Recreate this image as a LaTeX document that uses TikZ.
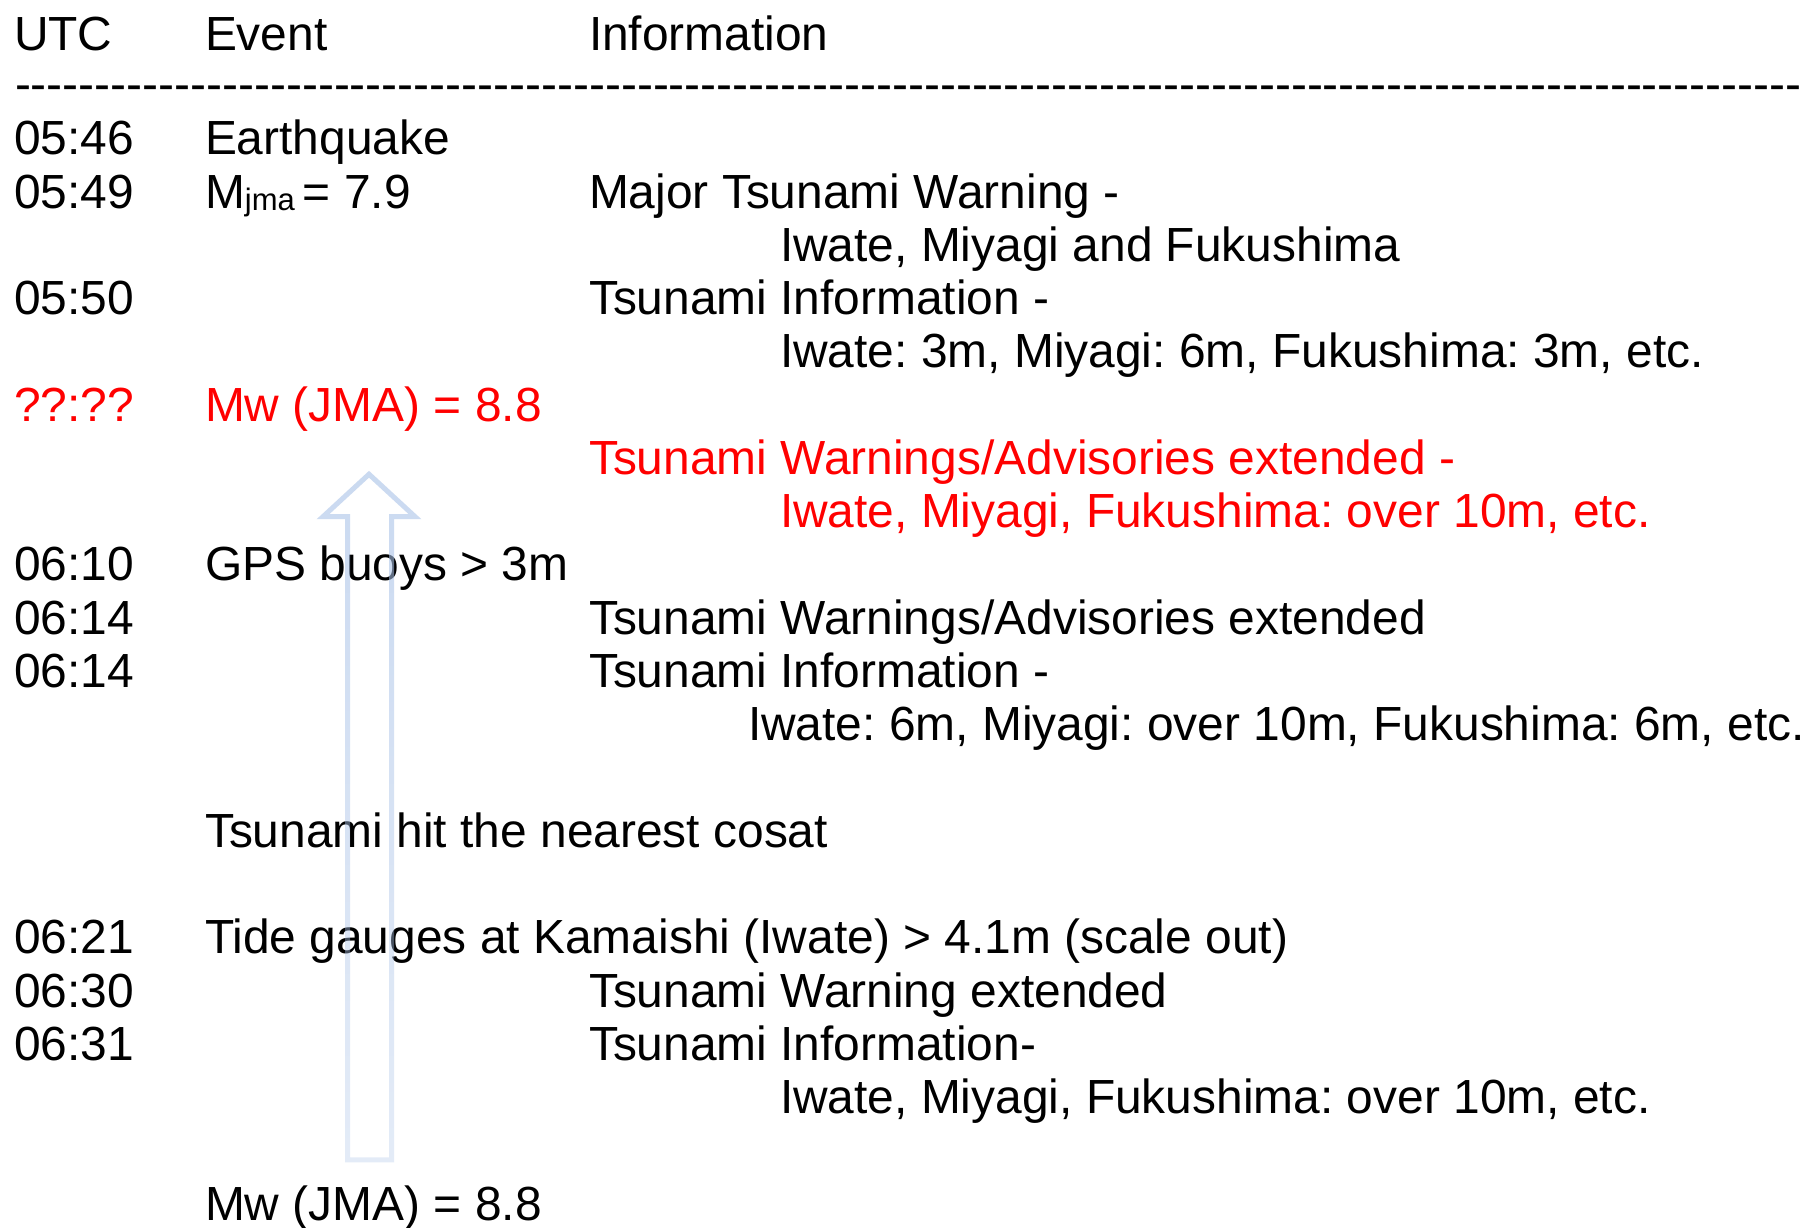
\documentclass[tikz,border=0pt]{standalone}
\usepackage{fontspec}
\setmainfont{Liberation Sans}[Ligatures=TeXOff]
\usetikzlibrary{fadings}
\frenchspacing
\definecolor{alertred}{RGB}{255,0,0}
\definecolor{arrowblue}{RGB}{170,195,232}
\tikzfading[name=arrowfade, top color=transparent!38, bottom color=transparent!68]
\tikzset{
  txt/.style={anchor=base west, inner sep=0pt, outer sep=0pt, font=\frenchspacing\fontsize{47.9}{53}\selectfont, text=black},
  red/.style={txt, text=alertred},
  bigarrow/.style={draw=arrowblue, line width=5pt, line join=miter, path fading=arrowfade, fit fading=true}
}
\begin{document}
\begin{tikzpicture}[x=1pt,y=1pt]
\useasboundingbox[fill=white] (0,0) rectangle (1810,-1227);
% header
\node[txt] (hUTC) at (14,-50.7) {UTC};
\node[txt] (hEvent) at (205,-50.7) {Event};
\node[txt] (hInfo) at (589,-50.7) {Information};
\node[txt] (rule) at (15,-100.2) {\foreach \k in {1,...,112}{-}};
% rows
\node[txt] (t0) at (14,-154.7) {05:46};
\node[txt] (e0) at (205,-154.7) {Earthquake};
\node[txt] (t1) at (14,-208.0) {05:49};
\node[txt] (e1) at (205,-208.0) {M{\fontsize{31}{31}\selectfont\raisebox{-2pt}{jma}}\,= 7.9};
\node[txt] (i1) at (589,-208.0) {Major Tsunami Warning -};
\node[txt] (i2) at (780,-261.2) {Iwate, Miyagi and Fukushima};
\node[txt] (t3) at (14,-314.5) {05:50};
\node[txt] (i3) at (589,-314.5) {Tsunami Information -};
\node[txt] (i4) at (780,-367.8) {Iwate: 3m, Miyagi: 6m, Fukushima: 3m, etc.};
\node[red] (t5) at (14,-421.0) {??:??};
\node[red] (e5) at (205,-421.0) {Mw (JMA) = 8.8};
\node[red] (i6) at (589,-474.3) {Tsunami Warnings/Advisories extended -};
\node[red] (i7) at (780,-527.6) {Iwate, Miyagi, Fukushima: over 10m, etc.};
\node[txt] (t8) at (14,-580.9) {06:10};
\node[txt] (e8) at (205,-580.9) {GPS buoys > 3m};
\node[txt] (t9) at (14,-634.1) {06:14};
\node[txt] (i9) at (589,-634.1) {Tsunami Warnings/Advisories extended};
\node[txt] (t10) at (14,-687.4) {06:14};
\node[txt] (i10) at (589,-687.4) {Tsunami Information -};
\node[txt] (i11) at (748,-740.7) {Iwate: 6m, Miyagi: over 10m, Fukushima: 6m, etc.};
\node[txt] (e13) at (205,-847.2) {Tsunami hit the nearest cosat};
\node[txt] (t15) at (14,-953.8) {06:21};
\node[txt] (e15) at (205,-953.8) {Tide gauges at Kamaishi (Iwate) > 4.1m (scale out)};
\node[txt] (t16) at (14,-1007.0) {06:30};
\node[txt] (i16) at (589,-1007.0) {Tsunami Warning extended};
\node[txt] (t17) at (14,-1060.3) {06:31};
\node[txt] (i17) at (589,-1060.3) {Tsunami Information-};
\node[txt] (i18) at (780,-1113.6) {Iwate, Miyagi, Fukushima: over 10m, etc.};
\node[txt] (e20) at (205,-1220.1) {Mw (JMA) = 8.8};
% hollow arrow
\draw[bigarrow] (347.5,-1159.5) -- (347.5,-515.5) -- (323,-515.5) -- (369,-473) -- (415,-515.5) -- (391.5,-515.5) -- (391.5,-1159.5) -- cycle;
\end{tikzpicture}
\end{document}
